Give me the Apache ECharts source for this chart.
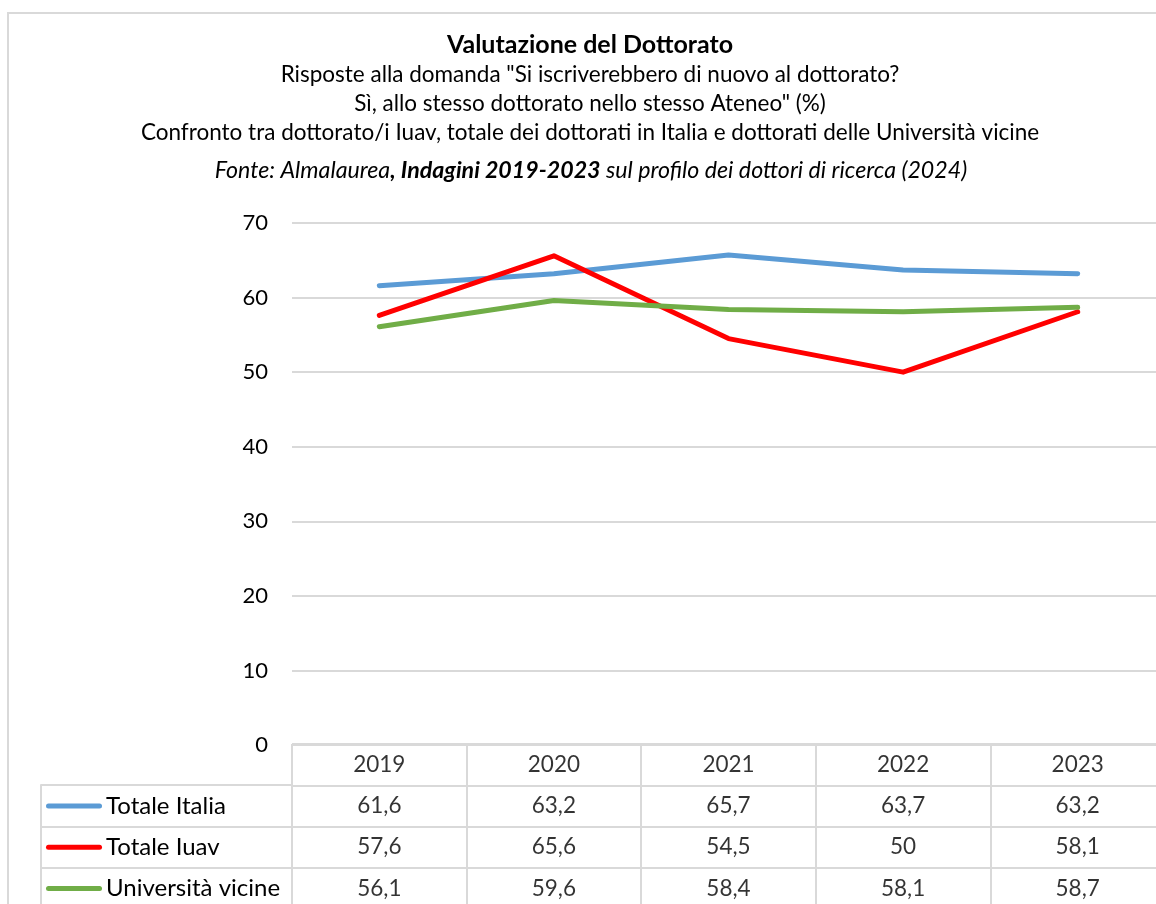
<!DOCTYPE html>
<html>
<head>
<meta charset="utf-8">
<title>Valutazione del Dottorato</title>
<script src="https://cdn.jsdelivr.net/npm/echarts@6/dist/echarts.min.js"></script>
<style>
  html, body { margin: 0; padding: 0; background: #fff; }
  #chart { width: 1156px; height: 904px; }
</style>
</head>
<body>
<div id="chart"></div>
<script>
// anni (categorie)
const anni = ['2019', '2020', '2021', '2022', '2023']
// serie
const totaleItalia = [61.6, 63.2, 65.7, 63.7, 63.2]
const totaleIuav = [57.6, 65.6, 54.5, 50, 58.1]
const universitaVicine = [56.1, 59.6, 58.4, 58.1, 58.7]
// etichette asse y
const yMin = 0
const yMax = 70
const yStep = 10

const nomiSerie = ['Totale Italia', 'Totale Iuav', 'Università vicine']
const valoriSerie = [totaleItalia, totaleIuav, universitaVicine]
const colori = ['#5b9bd5', '#ff0000', '#70ad47']

const font = 'Lato, "Noto Sans", sans-serif'
const grigio = '#d9d9d9'
const fmt = v => String(v).replace('.', ',')

let myChart = echarts.init(document.getElementById('chart'))

// righe della tabella dati: intestazione + una riga per serie
const righe = [''].concat(nomiSerie)
const celle = []
anni.forEach(a => celle.push([a, '', a]))
valoriSerie.forEach((vals, s) => {
    vals.forEach((v, i) => celle.push([anni[i], nomiSerie[s], fmt(v)]))
})

// stile rich per la legenda dentro la tabella
const rich = { t: { fontSize: 24, color: '#000', fontFamily: font, padding: [0, 0, 0, 4] } }
colori.forEach((c, i) => {
    rich['m' + (i + 1)] = { width: 56, height: 5, backgroundColor: c, borderRadius: 2.5 }
})

// stile comune dei sottotitoli
const sub = { fontSize: 22.5, fontWeight: 'normal', color: '#000', lineHeight: 26 }

const option = {
    backgroundColor: '#fff',
    textStyle: { fontFamily: font },
    animation: false,
    title: [
        { text: 'Valutazione del Dottorato', left: 590, top: 31, textAlign: 'center', padding: 0,
          textStyle: { fontSize: 25, fontWeight: 'bold', color: '#000', lineHeight: 28 } },
        { text: 'Risposte alla domanda "Si iscriverebbero di nuovo al dottorato?', left: 590, top: 62, textAlign: 'center', padding: 0,
          textStyle: sub },
        { text: 'Sì, allo stesso dottorato nello stesso Ateneo" (%)', left: 590, top: 91, textAlign: 'center', padding: 0,
          textStyle: sub },
        { text: 'Confronto tra dottorato/i Iuav, totale dei dottorati in Italia e dottorati delle Università vicine', left: 590, top: 120, textAlign: 'center', padding: 0,
          textStyle: sub },
        { text: '{i|Fonte: Almalaurea}{b|, Indagini 2019-2023}{i| sul profilo dei dottori di ricerca (2024)}', left: 591, top: 158, textAlign: 'center', padding: 0,
          textStyle: {
              fontWeight: 'normal',
              rich: {
                  i: { fontSize: 23.2, fontStyle: 'italic', fontWeight: 'normal', color: '#000', fontFamily: font, lineHeight: 26 },
                  b: { fontSize: 23.2, fontStyle: 'italic', fontWeight: 'bold', color: '#000', fontFamily: font, lineHeight: 26 }
              }
          } }
    ],
    // bordo esterno dell'area grafico
    graphic: [
        { type: 'rect', shape: { x: 8, y: 13, width: 1170, height: 910 }, silent: true,
          style: { fill: 'none', stroke: grigio, lineWidth: 2 } }
    ],
    grid: [
        // grafico a linee
        { left: 292, top: 223, width: 873, height: 522, outerBoundsMode: 'none' },
        // tabella valori
        { left: 292, top: 744, width: 873, height: 165, outerBoundsMode: 'none' },
        // colonna etichette della tabella
        { left: 41, top: 785, width: 251, height: 124, outerBoundsMode: 'none' }
    ],
    xAxis: [
        {
            gridIndex: 0, type: 'category', data: anni, boundaryGap: true,
            axisLabel: { show: false }, axisTick: { show: false },
            axisLine: { show: true, lineStyle: { color: grigio, width: 2 } },
            splitLine: { show: false }
        },
        {
            gridIndex: 1, type: 'category', data: anni, boundaryGap: true,
            axisLabel: { show: false }, axisTick: { show: false }, axisLine: { show: false },
            splitLine: { show: true, interval: 0, lineStyle: { color: grigio, width: 2 } }
        },
        {
            gridIndex: 2, type: 'value', min: 0, max: 1, show: false
        }
    ],
    yAxis: [
        {
            gridIndex: 0, type: 'value', min: yMin, max: yMax, interval: yStep,
            axisLine: { show: false }, axisTick: { show: false },
            axisLabel: { fontSize: 22, color: '#000', margin: 24 },
            splitLine: { show: true, lineStyle: { color: grigio, width: 2 } }
        },
        {
            gridIndex: 1, type: 'category', data: righe, inverse: true,
            axisLine: { show: false }, axisTick: { show: false },
            axisLabel: {
                align: 'left', margin: 246, fontSize: 24, color: '#000',
                formatter: (v, i) => i === 0 ? '' : '{m' + i + '|}{t|' + v + '}',
                rich: rich
            },
            splitLine: { show: true, interval: 0, lineStyle: { color: grigio, width: 2 } }
        },
        {
            gridIndex: 2, type: 'category', data: nomiSerie, inverse: true,
            axisLine: { show: true, lineStyle: { color: grigio, width: 2 } },
            axisTick: { show: false }, axisLabel: { show: false },
            splitLine: { show: true, interval: 0, lineStyle: { color: grigio, width: 2 } }
        }
    ],
    series: valoriSerie.map((vals, s) => ({
        name: nomiSerie[s],
        type: 'line',
        xAxisIndex: 0,
        yAxisIndex: 0,
        data: vals,
        showSymbol: false,
        symbol: 'none',
        lineStyle: { color: colori[s], width: 5, cap: 'round', join: 'round' },
        itemStyle: { color: colori[s] }
    })).concat([{
        type: 'scatter',
        xAxisIndex: 1,
        yAxisIndex: 1,
        data: celle,
        symbolSize: 1,
        silent: true,
        itemStyle: { color: 'rgba(0,0,0,0)' },
        label: {
            show: true, position: 'inside', fontSize: 22.5, color: '#000',
            formatter: p => p.value[2]
        }
    }])
}

myChart.setOption(option)

window.onresize = function () {
    myChart.resize()
}
</script>
</body>
</html>
